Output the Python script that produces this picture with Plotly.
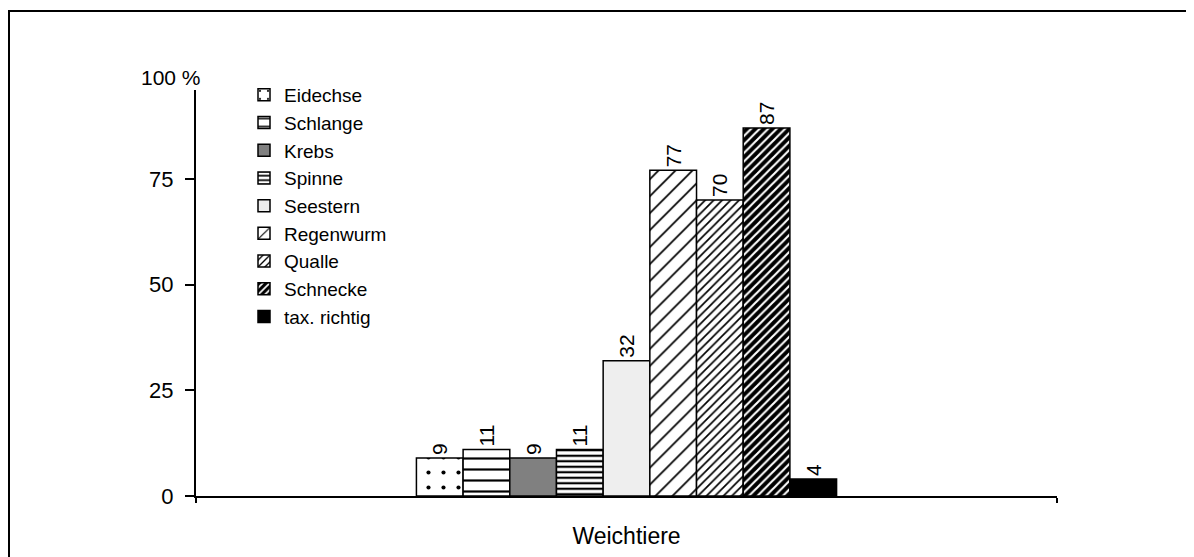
import plotly.graph_objects as go

category = ["Weichtiere"]
animals = ["Eidechse", "Schlange", "Krebs", "Spinne", "Seestern",
           "Regenwurm", "Qualle", "Schnecke", "tax. richtig"]
values = [9, 11, 9, 11, 32, 77, 70, 87, 4]
y_ticks = [0, 25, 50, 75]

# pattern styles per series: (shape, fg, bg, size, solidity)
styles = [
    (".", "black", "white", 15, 0.06),
    ("-", "black", "white", 11, 0.2),
    ("", "#808080", "#808080", 8, 0.3),
    ("-", "black", "white", 5.5, 0.4),
    ("", "#eeeeee", "#eeeeee", 8, 0.3),
    ("/", "black", "white", 12, 0.14),
    ("/", "black", "white", 6, 0.28),
    ("/", "white", "black", 6, 0.35),
    ("", "black", "black", 8, 0.3),
]

FONT = "Liberation Sans, Arial, sans-serif"

fig = go.Figure()
for name, val, (shape, fg, bg, size, sol) in zip(animals, values, styles):
    fig.add_trace(go.Bar(
        name=name,
        x=category,
        y=[val],
        text=[str(val)],
        textposition="outside",
        textangle=-90,
        textfont=dict(family=FONT, size=21, color="black"),
        cliponaxis=False,
        marker=dict(
            color=bg,
            line=dict(color="black", width=1.5),
            pattern=dict(shape=shape, fgcolor=fg, bgcolor=bg, size=size,
                         solidity=sol, fillmode="replace"),
        ),
    ))

# page is offset by the 8px body margin
OFF = 8
W, H = 1194 - OFF, 557 - OFF
L = 196 - OFF
T = 90 - OFF
R = W - (1057 - OFF)
B = H - (496 - OFF)
pw, ph = W - L - R, H - T - B


def px_x(x):
    return (x - OFF - L) / pw


def px_y(y):
    return (H - B - (y - OFF)) / ph


fig.update_layout(
    width=W, height=H,
    margin=dict(l=L, r=R, t=T, b=B, pad=0, autoexpand=False),
    paper_bgcolor="white", plot_bgcolor="white",
    font=dict(family=FONT, color="black", size=21),
    barmode="group",
    bargap=0.512,
    bargroupgap=0,
    showlegend=True,
    legend=dict(
        x=px_x(244), y=px_y(76), xanchor="left", yanchor="top",
        bgcolor="rgba(0,0,0,0)",
        font=dict(family=FONT, size=19, color="black"),
        tracegroupgap=0,
        itemwidth=30,
    ),
    xaxis=dict(
        range=[-0.5, 0.5],
        automargin=False,
        showline=True, linecolor="black", linewidth=2,
        ticks="outside", tickson="boundaries", ticklen=5, tickwidth=2,
        tickcolor="black",
        showgrid=False, zeroline=False,
        tickfont=dict(family=FONT, size=23, color="black"),
        ticklabelstandoff=18,
    ),
    yaxis=dict(
        range=[0, 96],
        automargin=False,
        tickvals=y_ticks,
        showline=True, linecolor="black", linewidth=2,
        ticks="outside", ticklen=9, tickwidth=2, tickcolor="black",
        showgrid=False, zeroline=False,
        tickfont=dict(family=FONT, size=22, color="black"),
        ticklabelstandoff=7,
    ),
    annotations=[dict(
        text="100 %", xref="paper", yref="paper",
        x=px_x(203), y=px_y(77), xanchor="right", yanchor="middle",
        showarrow=False, font=dict(family=FONT, size=21, color="black"),
    )],
    shapes=[dict(
        type="rect", xref="paper", yref="paper",
        x0=px_x(9), x1=px_x(1215), y0=px_y(580), y1=px_y(11),
        line=dict(color="black", width=2), fillcolor="rgba(0,0,0,0)",
        layer="below",
    )],
)

fig.write_html("out.html")
